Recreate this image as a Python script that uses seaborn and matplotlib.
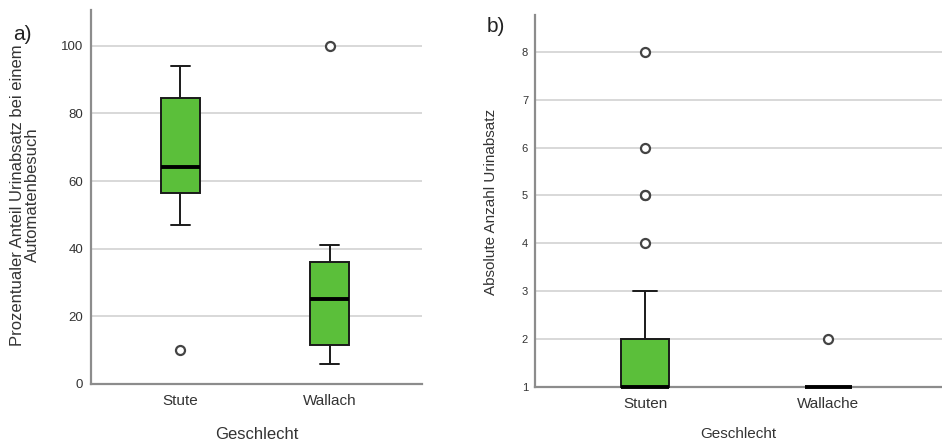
import matplotlib
matplotlib.use("Agg")
import matplotlib.pyplot as plt
import seaborn as sns
import pandas as pd

# panel a) - percent urination per visit (values estimated from the picture)
stute_pct = [10, 47, 56.5, 60, 64.3, 75, 84.6, 90, 94]
wallach_pct = [6, 9, 11.6, 18, 25.2, 30, 36, 41, 100]
labels_a = ["Stute", "Wallach"]

# panel b) - absolute count of urination
stuten_abs = [1] * 16 + [2] * 8 + [3] * 2 + [4, 5, 5, 6, 8]
wallache_abs = [1] * 12 + [2]
labels_b = ["Stuten", "Wallache"]

df_a = pd.DataFrame({
    "Geschlecht": [labels_a[0]] * len(stute_pct) + [labels_a[1]] * len(wallach_pct),
    "wert": stute_pct + wallach_pct,
})
df_b = pd.DataFrame({
    "Geschlecht": [labels_b[0]] * len(stuten_abs) + [labels_b[1]] * len(wallache_abs),
    "wert": stuten_abs + wallache_abs,
})

sns.set_style("white")
plt.rcParams["font.family"] = ["Liberation Sans", "DejaVu Sans"]

GREEN = "#5bbf3a"
box_kw = dict(
    width=0.26, color=GREEN, saturation=1, linecolor="#1a1a1a", linewidth=1.4,
    medianprops={"linewidth": 2.8, "color": "black"},
    flierprops={"marker": "o", "markersize": 6.5, "markerfacecolor": "white",
                "markeredgecolor": "#444444", "markeredgewidth": 1.6},
)

fig = plt.figure(figsize=(9.42, 4.46), dpi=100)
ax1 = fig.add_axes([91 / 942, 1 - 384 / 446, 331 / 942, 374 / 446])
ax2 = fig.add_axes([535 / 942, 1 - 387 / 446, 407 / 942, 372 / 446])

sns.boxplot(data=df_a, x="Geschlecht", y="wert", ax=ax1, **box_kw)
sns.boxplot(data=df_b, x="Geschlecht", y="wert", ax=ax2, **box_kw)

# medians sitting on the bottom axis: draw them over the spine, unclipped
for p in ax2.patches:
    p.set_clip_on(False)
    p.set_zorder(3)
for ln in ax2.lines:
    ln.set_clip_on(False)
    ln.set_zorder(4)

ax1.set_ylim(0, 110.6)
ax1.set_yticks([0, 20, 40, 60, 80, 100])
ax2.set_ylim(1, 8.77)
ax2.set_yticks([1, 2, 3, 4, 5, 6, 7, 8])

for ax in (ax1, ax2):
    ax.set_xlim(-0.6, 1.62)
    ax.set_axisbelow(True)
    ax.yaxis.grid(True, color="#d6d6d6", linewidth=1.3)
    for s in ("top", "right"):
        ax.spines[s].set_visible(False)
    for s in ("left", "bottom"):
        ax.spines[s].set_color("#8c8c8c")
        ax.spines[s].set_linewidth(1.6)
    ax.tick_params(length=0, colors="#333333")

ax1.tick_params(axis="y", labelsize=9.5, pad=5.5)
ax1.tick_params(axis="x", labelsize=11, pad=7)
ax2.tick_params(axis="y", labelsize=8, pad=5)
ax2.tick_params(axis="x", labelsize=11, pad=7)

ax1.set_xlabel("Geschlecht", fontsize=12, color="#333333", labelpad=14)
ax2.set_xlabel("Geschlecht", fontsize=11, color="#333333", labelpad=12)
ax1.set_ylabel("Prozentualer Anteil Urinabsatz bei einem\nAutomatenbesuch",
               fontsize=12, color="#333333", linespacing=1.0)
ax1.yaxis.set_label_coords((40 - 91) / 331, (384 - 195) / 374)
ax2.set_ylabel("Absolute Anzahl Urinabsatz", fontsize=11, color="#333333")
ax2.yaxis.set_label_coords((498 - 535) / 407, (387 - 202) / 372)

fig.text(13 / 942, 1 - 35 / 446, "a)", fontsize=15, va="center", ha="left", color="#222222")
fig.text(487 / 942, 1 - 27 / 446, "b)", fontsize=15, va="center", ha="left", color="#222222")

fig.savefig("out.png", dpi=100)
